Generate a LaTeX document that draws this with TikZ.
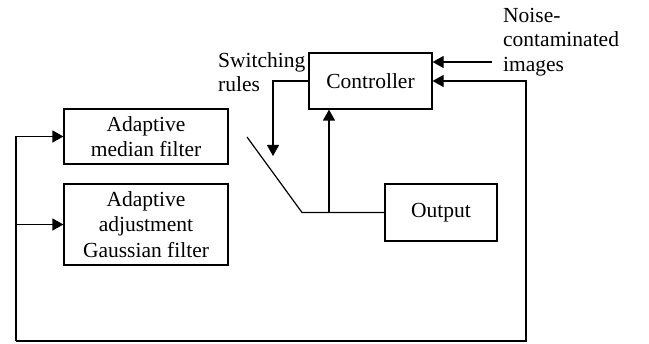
\documentclass[tikz,border=0pt]{standalone}
\usepackage{fontspec}
\setmainfont{Liberation Serif}
\usetikzlibrary{arrows.meta}
\begin{document}
\begin{tikzpicture}[x=1pt,y=-1pt,
  box/.style={draw, line width=1.2pt, inner sep=0pt, align=center,
    font=\fontsize{21.5}{25.5}\selectfont},
  lab/.style={inner sep=0pt, align=left, anchor=north west,
    font=\fontsize{21.5}{24.5}\selectfont},
  wire/.style={line width=1.2pt},
  arr/.style={wire, -{Triangle[length=11pt,width=12pt]}}]
\useasboundingbox (0,0) rectangle (649,344);

% blocks
\node[box, minimum width=123pt, minimum height=56pt] (ctrl) at (370.5,81) {Controller};
\node[box, minimum width=164pt, minimum height=55pt] (med) at (146,136.5) {Adaptive\\median filter};
\node[box, minimum width=164pt, minimum height=81pt] (gau) at (146,224.5) {Adaptive\\adjustment\\Gaussian filter};
\node[box, minimum width=112pt, minimum height=57pt] (out) at (441,212.5) {Output};

% free labels
\node[lab] (sw) at (218,52) {Switching\\rules};
\node[lab] (nz) at (503,8) {Noise-\\contaminated\\images};

% switching rules arrow
\coordinate (rulesend) at (273,156);
\draw[arr] (ctrl.west) -| (rulesend);

% the switch
\coordinate (swtop) at (247,137);
\coordinate (swpiv) at (302,212.5);
\coordinate (jn) at (329,212.5);
\draw[wire] (swtop) -- (swpiv) -- (out.west);
\draw[arr] (jn) -- (jn |- ctrl.south);

% noisy input
\coordinate (nzin) at (492,62);
\draw[arr] (nzin) -- (ctrl.east |- nzin);

% feedback loop
\coordinate (fbR) at (526,81);
\coordinate (fbB) at (526,341);
\coordinate (fbL) at (16,341);
\draw[arr] (fbL) -- (fbB) -- (fbR) -- (ctrl.east);
\draw[arr] (fbL) -- (fbL |- med.west) -- (med.west);
\draw[arr] (fbL |- gau.west) -- (gau.west);
\end{tikzpicture}
\end{document}
